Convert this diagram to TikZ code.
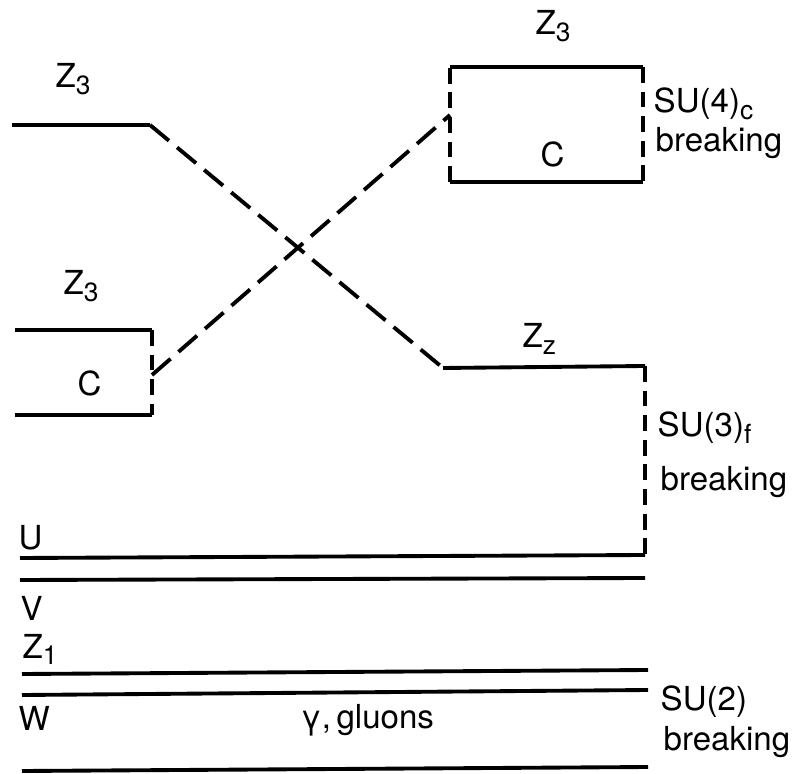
\documentclass[tikz,border=0pt]{standalone}
\usepackage{fontspec}
\setmainfont{TeX Gyre Heros}
\usepackage{tikz}
\usetikzlibrary{positioning}

\newcommand{\lvsub}[1]{\raisebox{-0.35ex}{\fontsize{7.5}{8}\selectfont #1}}

\begin{document}
\begin{tikzpicture}[
    x=0.01cm, y=-0.01cm,
    level/.style={line width=1.1pt},
    dlevel/.style={line width=1.1pt, dash pattern=on 7pt off 3pt},
    vlevel/.style={line width=1.1pt, dash pattern=on 4.5pt off 2.5pt},
    lbl/.style={anchor=base west, inner sep=0pt,
        font=\fontsize{9.4}{10}\selectfont}
]
\useasboundingbox (0,0) rectangle (795,774);

%% ── Level corners ───────────────────────────────────────────────
\coordinate (tl_a) at (12,125);
\coordinate (tl_b) at (150,125);
\coordinate (zz_a) at (443,368);
\coordinate (zz_b) at (645,366);
\coordinate (u_r)  at (645,555);
\coordinate (u_l)  at (20,558);

\coordinate (cb_tl) at (15,330);
\coordinate (cb_tr) at (152,330);
\coordinate (cb_m)  at (152,375);
\coordinate (cb_br) at (152,415);
\coordinate (cb_bl) at (15,415);

\coordinate (bx_tl) at (450,67);
\coordinate (bx_tr) at (643,67);
\coordinate (bx_br) at (643,182);
\coordinate (bx_bl) at (450,182);
\coordinate (bx_m)  at (450,115);

%% ── Upper Z_3 level running down to Z_z ─────────────────────────
\draw[level]  (tl_a) -- (tl_b);
\draw[dlevel] (tl_b) -- (zz_a);
\draw[level]  (zz_a) -- (zz_b);
\draw[vlevel] (zz_b) -- (u_r);
\draw[level]  (u_r) -- (u_l);

%% ── Lower C box running up to the top C box ─────────────────────
\draw[level]  (cb_tl) -- (cb_tr);
\draw[vlevel] (cb_tr) -- (cb_br);
\draw[level]  (cb_br) -- (cb_bl);
\draw[dlevel] (cb_m) -- (bx_m);

\draw[level]  (bx_tl) -- (bx_tr);
\draw[vlevel] (bx_tr) -- (bx_br);
\draw[level]  (bx_br) -- (bx_bl);
\draw[vlevel] (bx_bl) -- (bx_tl);

%% ── Flat levels ─────────────────────────────────────────────────
\coordinate (v_l)  at (20,580);  \coordinate (v_r)  at (645,578);
\coordinate (z1_l) at (22,674);  \coordinate (z1_r) at (648,670);
\coordinate (w_l)  at (22,695);  \coordinate (w_r)  at (648,690);
\coordinate (g_l)  at (22,771);  \coordinate (g_r)  at (648,767);
\draw[level] (v_l) -- (v_r);
\draw[level] (z1_l) -- (z1_r);
\draw[level] (w_l) -- (w_r);
\draw[level] (g_l) -- (g_r);

%% ── Level labels ────────────────────────────────────────────────
\node[lbl] (z3_top) at (55,88)  {Z\lvsub{3}};
\node[lbl] (z3_low) at (63,295) {Z\lvsub{3}};
\node[lbl] (z3_box) at (535,35) {Z\lvsub{3}};
\node[lbl] (zz)     at (522,348) {Z\lvsub{z}};
\node[lbl] (c_box)  at (540,167) {C};
\node[lbl] (c_low)  at (77,396)  {C};
\node[lbl] (u)      at (18,550)  {U};
\node[lbl] (v)      at (20,620)  {V};
\node[lbl] (z1)     at (22,658)  {Z\lvsub{1}};
\node[lbl] (w)      at (18,730)  {W};
\node[lbl] (gl)     at (300,728) {γ,\,gluons};

%% ── Breaking labels ─────────────────────────────────────────────
\node[lbl] (su4)  at (653,113) {SU(4)\lvsub{c}};
\node[lbl] (br4)  at (655,152) {breaking};
\node[lbl] (su3)  at (657,437) {SU(3)\lvsub{f}};
\node[lbl] (br3)  at (660,491) {breaking};
\node[lbl] (su2)  at (660,710) {SU(2)};
\node[lbl] (br2)  at (663,750) {breaking};

\end{tikzpicture}
\end{document}
